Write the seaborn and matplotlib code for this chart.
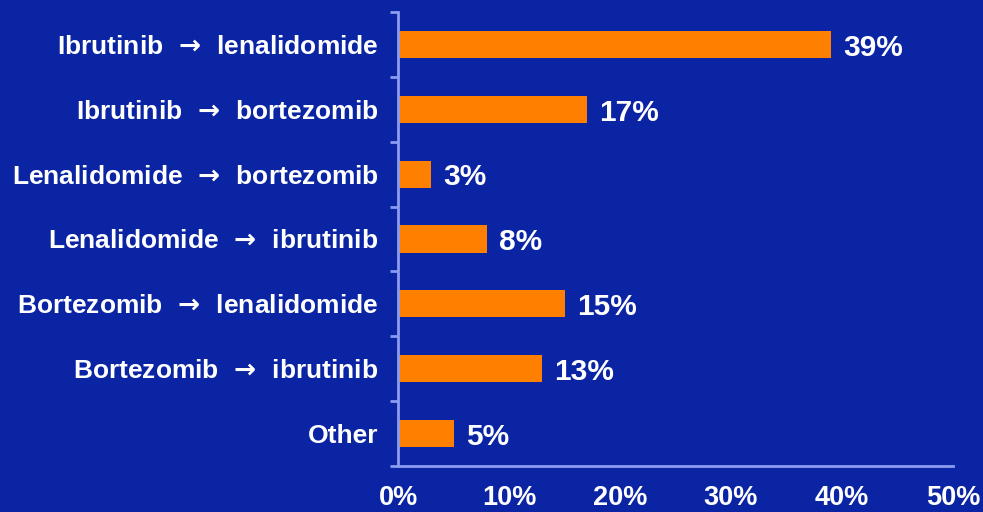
import matplotlib
matplotlib.use("Agg")
import matplotlib.pyplot as plt
import seaborn as sns
import pandas as pd
import numpy as np

categories = ["Ibrutinib \u2192 lenalidomide", "Ibrutinib \u2192 bortezomib",
              "Lenalidomide \u2192 bortezomib", "Lenalidomide \u2192 ibrutinib",
              "Bortezomib \u2192 lenalidomide", "Bortezomib \u2192 ibrutinib", "Other"]
values = [39, 17, 3, 8, 15, 13, 5]
xticks = [0, 10, 20, 30, 40, 50]
xtick_labels = ["0%", "10%", "20%", "30%", "40%", "50%"]

bg = "#0A24A4"
axis_col = "#8C9CF0"
orange = "#FF7F00"

sns.set_theme(style="white")
plt.rcParams['font.family'] = ['Liberation Sans', 'DejaVu Sans']
plt.rcParams['mathtext.fontset'] = 'custom'
plt.rcParams['mathtext.rm'] = 'Liberation Sans:bold'
plt.rcParams['mathtext.bf'] = 'DejaVu Sans:bold'
plt.rcParams['mathtext.default'] = 'bf'

df = pd.DataFrame({"cat": categories, "val": values})
fig = plt.figure(figsize=(9.83, 5.12), dpi=100, facecolor=bg)
ax = fig.add_axes([398/983, 46/512, 555/983, 454/512])
ax.set_facecolor(bg)
sns.barplot(data=df, x="val", y="cat", orient="h", color=orange, width=0.42,
            saturation=1, ax=ax, edgecolor="none")
ax.set_xlim(0, 50)
ax.set_ylim(6.5, -0.5)
ax.set_xlabel("")
ax.set_ylabel("")
for s in ["top", "right"]:
    ax.spines[s].set_visible(False)
for s in ["left", "bottom"]:
    ax.spines[s].set_color(axis_col)
    ax.spines[s].set_linewidth(2)
ax.set_xticks(xticks)
ax.set_xticklabels(xtick_labels, fontsize=19.5, fontweight="bold", color="white")
ax.tick_params(axis="x", direction="out", length=6, width=2, color=axis_col, pad=8)
ax.set_yticks(range(len(categories)))
shown = [c.replace(" \u2192 ", " $\\mathbf{\\ \u2192\\ }$ ") for c in categories]
ax.set_yticklabels(shown, fontsize=19, fontweight="bold", color="white")
ax.tick_params(axis="y", which="major", length=0, pad=14)
ax.set_yticks(np.arange(-0.5, len(categories), 1.0), minor=True)
ax.tick_params(axis="y", which="minor", direction="out", length=6, width=2, color=axis_col, left=True)

for i, v in enumerate(values):
    ax.text(v + 1.1, i + 0.05, f"{v}%", va="center", ha="left", fontsize=21.5,
            fontweight="bold", color="white")

fig.savefig("out.png", dpi=100, facecolor=bg)
